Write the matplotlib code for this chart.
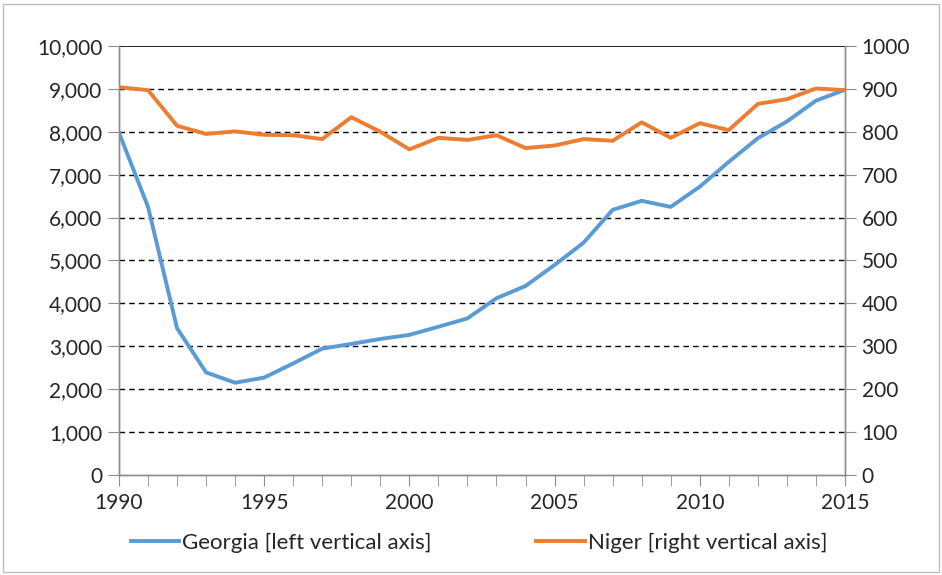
import matplotlib
matplotlib.use("Agg")
import matplotlib.pyplot as plt
from matplotlib.patches import Rectangle
from matplotlib.ticker import FuncFormatter, MultipleLocator

years = list(range(1990, 2016))
georgia = [7980, 6250, 3420, 2390, 2150, 2270, 2600, 2945, 3055, 3170, 3265,
           3455, 3650, 4120, 4405, 4895, 5415, 6180, 6390, 6250, 6720, 7300,
           7850, 8240, 8725, 8980]
niger = [904, 897, 814, 795, 801, 793, 792, 783, 834, 800, 759,
         786, 781, 792, 762, 768, 783, 779, 822, 786, 820, 804,
         865, 876, 901, 897]
left_ticks = list(range(0, 10001, 1000))
right_ticks = list(range(0, 1001, 100))
x_labels = [1990, 1995, 2000, 2005, 2010, 2015]
label_georgia = "Georgia [left vertical axis]"
label_niger = "Niger [right vertical axis]"

plt.rcParams['font.family'] = ['Lato', 'DejaVu Sans']
FS = 15
LFS = 16
blue = "#5B9BD5"
orange = "#ED7D31"
spine_c = "#8C8C8C"
text_c = "#262626"

fig = plt.figure(figsize=(9.42, 5.75), dpi=100)
fig.patches.append(Rectangle((0.003, 0.005), 0.994, 0.988, transform=fig.transFigure,
                             fill=False, edgecolor="#BFBFBF", linewidth=1.0))
ax = fig.add_axes([0.1263, 0.174, 0.7707, 0.746])
ax2 = ax.twinx()

ax.set_xlim(1990, 2015)
ax.set_ylim(0, 10000)
ax2.set_ylim(0, 1000)

for v in left_ticks[1:-1]:
    ax.axhline(v, color="black", linestyle=(0, (4, 3)), linewidth=1.0, zorder=1)
ax.axhline(10000, color="black", linewidth=1.2, zorder=1)

l1, = ax.plot(years, georgia, color=blue, linewidth=2.8, zorder=3, label=label_georgia)
l2, = ax2.plot(years, niger, color=orange, linewidth=2.8, zorder=3, label=label_niger)

ax.set_yticks(left_ticks)
ax.yaxis.set_major_formatter(FuncFormatter(lambda v, p: f"{int(v):,}"))
ax2.set_yticks(right_ticks)
ax.set_xticks(x_labels)
ax.xaxis.set_minor_locator(MultipleLocator(1))

for a in (ax, ax2):
    for s in a.spines.values():
        s.set_color(spine_c)
        s.set_linewidth(1.0)
    a.spines['top'].set_visible(False)
ax.tick_params(axis='both', which='both', color=spine_c, direction='out', labelsize=FS,
               labelcolor=text_c)
ax.tick_params(axis='x', which='major', length=8, pad=5)
ax.tick_params(axis='x', which='minor', length=8)
ax.tick_params(axis='y', length=8, pad=4)
ax2.tick_params(axis='y', color=spine_c, direction='out', length=8, labelsize=FS,
                labelcolor=text_c, pad=4)

leg = fig.legend(handles=[l1, l2], loc='center', bbox_to_anchor=(0.5085, 0.0557), ncol=2,
                 frameon=False, fontsize=LFS, handlelength=2.2, handletextpad=0.13,
                 columnspacing=4.7)
for t in leg.get_texts():
    t.set_color(text_c)

fig.savefig("out.png", dpi=100)
